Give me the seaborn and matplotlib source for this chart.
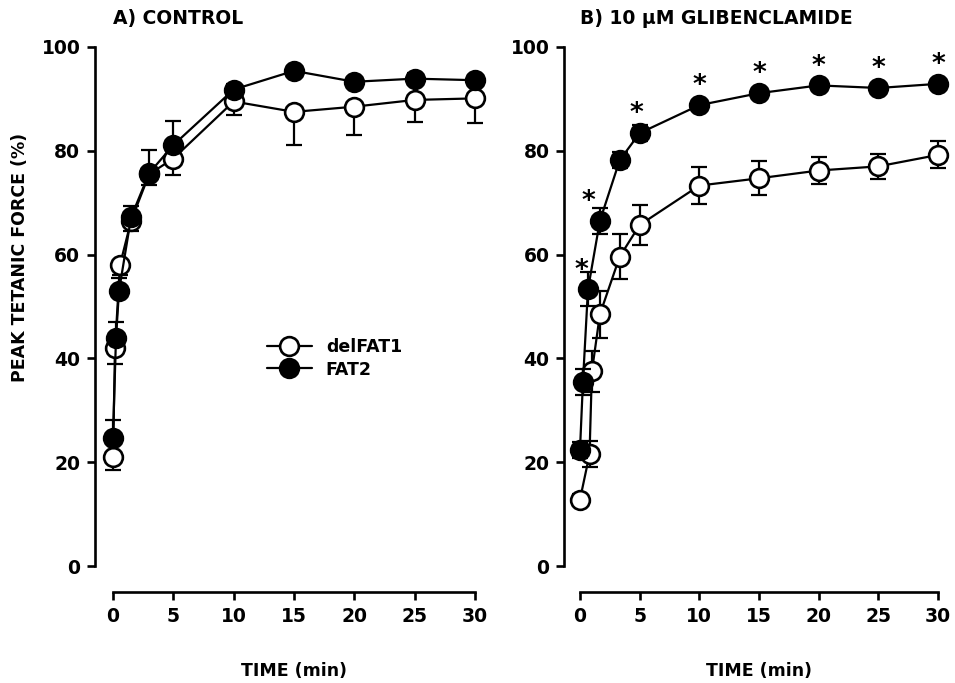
import numpy as np
import pandas as pd
import matplotlib
matplotlib.use("Agg")
import matplotlib.pyplot as plt
import seaborn as sns

# ---------------- data ----------------
# Panel A: control
a_del_t = [0, 0.17, 0.58, 1.5, 3, 5, 10, 15, 20, 25, 30]
a_del_y = [21.0, 42.0, 58.0, 66.5, 75.5, 78.5, 89.5, 87.5, 88.5, 89.8, 90.1]
a_del_err = [2.5, 3.0, 2.0, 2.0, 2.0, 3.2, 2.6, 6.4, 5.5, 4.2, 4.7]

a_fat_t = [0, 0.25, 0.5, 1.5, 3, 5, 10, 15, 20, 25, 30]
a_fat_y = [24.7, 44.0, 53.0, 67.2, 75.7, 81.1, 91.8, 95.4, 93.3, 93.9, 93.6]
a_fat_err = [3.4, 3.0, 2.5, 2.2, 4.5, 4.6, 1.0, 1.0, 1.0, 1.0, 1.0]

# Panel B: 10 uM glibenclamide
b_del_t = [0, 0.8, 1.0, 1.67, 3.33, 5, 10, 15, 20, 25, 30]
b_del_y = [12.8, 21.5, 37.5, 48.5, 59.6, 65.7, 73.3, 74.7, 76.2, 77.0, 79.2]
b_del_err = [1.0, 2.5, 4.0, 4.5, 4.3, 3.8, 3.5, 3.3, 2.6, 2.4, 2.6]

b_fat_t = [0, 0.25, 0.67, 1.67, 3.33, 5, 10, 15, 20, 25, 30]
b_fat_y = [22.3, 35.5, 53.3, 66.5, 78.2, 83.4, 88.8, 91.1, 92.6, 92.1, 92.9]
b_fat_err = [1.5, 2.5, 3.3, 2.5, 1.5, 1.5, 1.0, 1.0, 1.0, 1.0, 1.0]

# significance stars (panel B, FAT2 points)
star_t = [0.67, 1.67, 5, 10, 15, 20, 25, 30]
star_y = [53.3, 66.5, 83.4, 88.8, 91.1, 92.6, 92.1, 92.9]

series_names = ["delFAT1", "FAT2"]
titles = ["A) CONTROL", "B) 10 µM GLIBENCLAMIDE"]
x_ticks = [0, 5, 10, 15, 20, 25, 30]
y_ticks = [0, 20, 40, 60, 80, 100]
x_label = "TIME (min)"
y_label = "PEAK TETANIC FORCE (%)"

# ---------------- style ----------------
sns.set_style("ticks")
plt.rcParams["font.family"] = ["DejaVu Sans"]
plt.rcParams["font.weight"] = "bold"
plt.rcParams["text.color"] = "black"
plt.rcParams["axes.labelcolor"] = "black"
plt.rcParams["xtick.color"] = "black"
plt.rcParams["ytick.color"] = "black"
plt.rcParams["axes.edgecolor"] = "black"

fig = plt.figure(figsize=(9.55, 6.83), dpi=100)
axA = fig.add_axes([0.1183, 0.1713, 0.3791, 0.7599])
axB = fig.add_axes([0.6073, 0.1713, 0.3749, 0.7599])

LW = 1.6
MS = 13.5
MEW = 1.9


def draw_series(ax, t, y, err, filled, name, err_mode):
    df = pd.DataFrame({"t": t, "y": y})
    err = np.asarray(err)
    zero = np.zeros_like(err)
    if err_mode == "low":
        yerr = [err, zero]
    elif err_mode == "high":
        yerr = [zero, err]
    else:
        yerr = [err, err]
    ax.errorbar(t, y, yerr=yerr, fmt="none", ecolor="black", elinewidth=LW,
                capsize=6, capthick=LW, zorder=2 if not filled else 4,
                clip_on=False)
    sns.lineplot(data=df, x="t", y="y", ax=ax, color="black", marker="o",
                 markersize=MS, markerfacecolor="black" if filled else "white",
                 markeredgecolor="black", markeredgewidth=MEW, linewidth=LW,
                 label=name, errorbar=None, sort=False, estimator=None,
                 zorder=5 if filled else 3, clip_on=False)


draw_series(axA, a_del_t, a_del_y, a_del_err, False, series_names[0], "low")
draw_series(axA, a_fat_t, a_fat_y, a_fat_err, True, series_names[1], "high")
draw_series(axB, b_del_t, b_del_y, b_del_err, False, series_names[0], "both")
draw_series(axB, b_fat_t, b_fat_y, b_fat_err, True, series_names[1], "both")

star_dx = [-5, -8, -2, 0, 0, 0, 0, 0]
for st, sy, dx in zip(star_t, star_y, star_dx):
    axB.annotate("*", xy=(st, sy), xytext=(dx, 8.5), textcoords="offset points",
                 ha="center", va="baseline", fontsize=19, fontweight="bold",
                 color="black", zorder=6, annotation_clip=False)

for ax, title in zip([axA, axB], titles):
    ax.set_xlim(0, 30)
    ax.set_ylim(0, 100)
    ax.set_xticks(x_ticks)
    ax.set_yticks(y_ticks)
    sns.despine(ax=ax)
    ax.spines["bottom"].set_position(("outward", 19))
    ax.spines["left"].set_linewidth(1.9)
    ax.spines["bottom"].set_linewidth(1.9)
    ax.spines["left"].set_color("black")
    ax.spines["bottom"].set_color("black")
    ax.tick_params(axis="both", direction="out", length=5.5, width=1.9,
                   labelsize=13.5, pad=5, colors="black")
    for lab in ax.get_xticklabels() + ax.get_yticklabels():
        lab.set_fontweight("bold")
    ax.set_xlabel(x_label, fontsize=12.5, fontweight="bold", color="black")
    ax.xaxis.set_label_coords(0.5, -0.185)
    ax.set_ylabel("")
    ax.text(0.0, 1.054, title, transform=ax.transAxes, ha="left", va="center",
            fontsize=13.5, fontweight="bold", color="black")
    ax.set_facecolor("white")

axA.spines["left"].set_position(("outward", 13))
axB.spines["left"].set_position(("outward", 11.5))

axA.set_ylabel(y_label, fontsize=12.5, fontweight="bold", color="black")
axA.yaxis.set_label_coords(-0.232, 0.595)

leg = axA.legend(loc="center left", bbox_to_anchor=(0.425, 0.40), frameon=False,
                 fontsize=12.5, handlelength=2.6, handletextpad=0.8,
                 labelspacing=0.25, borderpad=0, borderaxespad=0)
for txt in leg.get_texts():
    txt.set_fontweight("bold")
    txt.set_color("black")
if axB.get_legend() is not None:
    axB.get_legend().remove()

fig.savefig("out.png", dpi=100, facecolor="white")
